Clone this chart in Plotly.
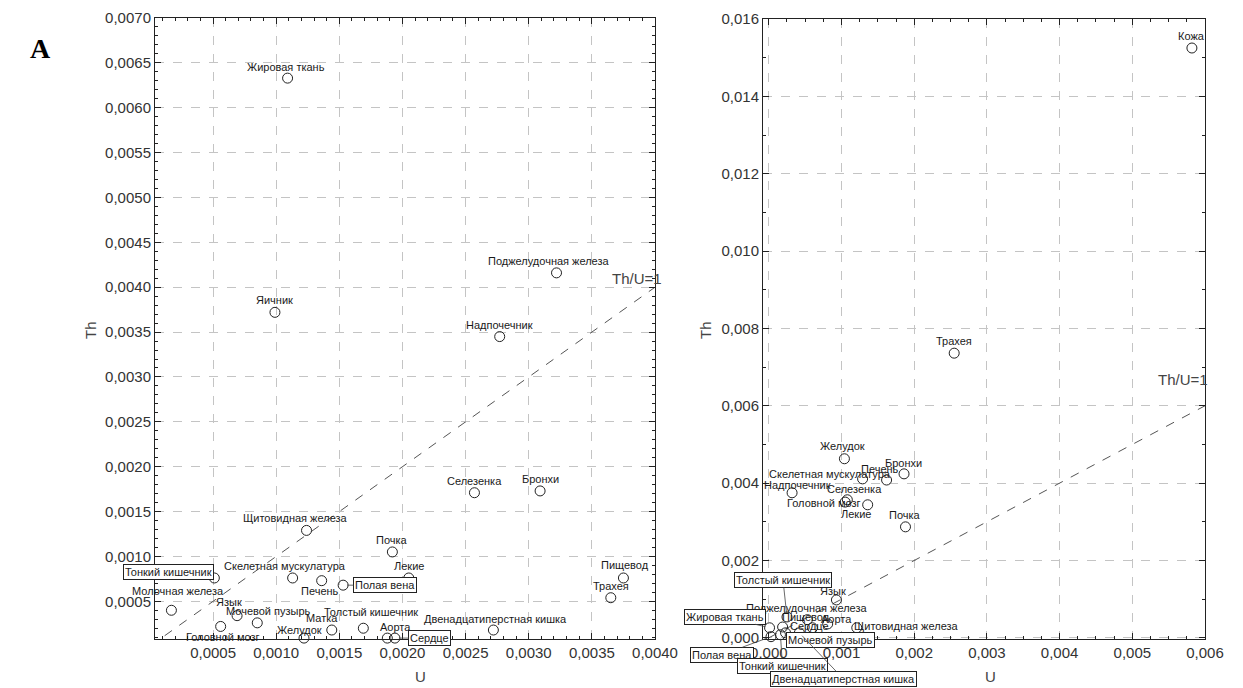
import plotly.graph_objects as go

# ---- Panel 1: organ concentrations, U vs Th ----
organs_a = [
    "Жировая ткань", "Поджелудочная железа", "Яичник", "Надпочечник", "Селезенка",
    "Бронхи", "Щитовидная железа", "Почка", "Лекие", "Полая вена",
    "Скелетная мускулатура", "Печень", "Тонкий кишечник", "Молочная железа", "Язык",
    "Мочевой пузырь", "Головной мозг", "Матка", "Желудок", "Толстый кишечник",
    "Аорта", "Сердце", "Двенадцатиперстная кишка", "Пищевод", "Трахея",
]
u_a = [
    0.00109, 0.00322, 0.00099, 0.00277, 0.00257,
    0.00309, 0.00124, 0.00192, 0.00205, 0.00153,
    0.00113, 0.00136, 0.00051, 0.00017, 0.00069,
    0.00085, 0.00056, 0.00144, 0.00122, 0.00169,
    0.00188, 0.00194, 0.00272, 0.00375, 0.00365,
]
th_a = [
    0.00633, 0.00416, 0.00372, 0.00345, 0.00171,
    0.00173, 0.00129, 0.00105, 0.00076, 0.00068,
    0.00076, 0.00073, 0.00076, 0.00040, 0.00034,
    0.00026, 0.00022, 0.00018, 0.00009, 0.00020,
    0.00009, 0.00009, 0.00018, 0.00076, 0.00054,
]

# ---- Panel 2 ----
organs_b = [
    "Кожа", "Трахея", "Желудок", "Бронхи", "Печень",
    "Скелетная мускулатура", "Надпочечник", "Селезенка", "Головной мозг", "Лекие",
    "Почка", "Язык", "Поджелудочная железа", "Аорта", "Пищевод",
    "Жировая ткань", "Сердце", "Мочевой пузырь", "Полая вена", "Тонкий кишечник",
    "Двенадцатиперстная кишка", "Толстый кишечник", "Щитовидная железа",
]
u_b = [
    0.00582, 0.00255, 0.00104, 0.00186, 0.00162,
    0.00129, 0.00032, 0.00108, 0.00105, 0.00136,
    0.00188, 0.00093, 0.00053, 0.00081, 0.00060,
    0.00001, 0.00019, 0.00023, 0.00003, 0.00016,
    0.00042, 0.00025, 0.00121,
]
th_b = [
    0.01525, 0.00736, 0.00463, 0.00424, 0.00408,
    0.00411, 0.00375, 0.00357, 0.00351, 0.00344,
    0.00287, 0.00098, 0.00047, 0.00036, 0.00026,
    0.00026, 0.00028, 0.00013, 0.00003, 0.00008,
    0.00013, 0.00054, 0.00026,
]

# reference line Th/U = 1
ratio_a = [0.0, 0.0040]
ratio_b = [0.0, 0.0060]

# label placement: (dx px, dy px upward, boxed with leader line)
place_a = {
    "Жировая ткань": (-2, 11, False),
    "Поджелудочная железа": (-8, 12, False),
    "Щитовидная железа": (-11, 12, False),
    "Скелетная мускулатура": (-8, 12, False),
    "Печень": (-2, -10, False),
    "Полая вена": (42, 0, True),
    "Тонкий кишечник": (-46, 6, True),
    "Молочная железа": (7, 19, False),
    "Язык": (-8, 14, False),
    "Мочевой пузырь": (11, 12, False),
    "Головной мозг": (2, -11, False),
    "Матка": (-10, 12, False),
    "Желудок": (-4, 8, False),
    "Толстый кишечник": (8, 16, False),
    "Аорта": (8, 11, False),
    "Сердце": (35, 0, True),
    "Двенадцатиперстная кишка": (2, 11, False),
    "Пищевод": (2, 13, False),
}
place_b = {
    "Желудок": (-2, 13, False),
    "Бронхи": (-1, 11, False),
    "Печень": (-7, 11, False),
    "Скелетная мускулатура": (-33, 5, False),
    "Надпочечник": (5, 8, False),
    "Селезенка": (7, 11, False),
    "Головной мозг": (-21, -1, False),
    "Лекие": (-12, -9, False),
    "Язык": (-3, 9, False),
    "Поджелудочная железа": (0, 12, False),
    "Аорта": (9, 5, False),
    "Пищевод": (-6, 11, False),
    "Жировая ткань": (-45, 11, True),
    "Сердце": (27, 1, False),
    "Мочевой пузырь": (45, -7, True),
    "Полая вена": (-49, -18, True),
    "Тонкий кишечник": (2, -31, True),
    "Двенадцатиперстная кишка": (44, -46, True),
    "Толстый кишечник": (-4, 37, True),
    "Щитовидная железа": (50, 2, False),
}

FONT = "Liberation Sans, Arial, sans-serif"
INK = "#1a1a1a"

fig = go.Figure()

for u, th, xa, ya, ref in (
    (u_a, th_a, "x", "y", ratio_a),
    (u_b, th_b, "x2", "y2", ratio_b),
):
    fig.add_trace(go.Scatter(
        x=ref, y=ref, xaxis=xa, yaxis=ya, mode="lines",
        line=dict(color="#555555", width=1, dash="dash"),
        hoverinfo="skip", showlegend=False,
    ))
    fig.add_trace(go.Scatter(
        x=u, y=th, xaxis=xa, yaxis=ya, mode="markers",
        marker=dict(symbol="circle-open", size=10, color="#222222",
                    line=dict(width=1, color="#222222")),
        cliponaxis=False, showlegend=False,
    ))

annotations = []


def add_labels(names, us, ths, placement, xr, yr):
    for name, u, th in zip(names, us, ths):
        dx, dy, boxed = placement.get(name, (0, 12, False))
        if boxed:
            annotations.append(dict(
                x=u, y=th, xref=xr, yref=yr, text=name,
                showarrow=True, ax=dx, ay=-dy, arrowhead=0,
                arrowwidth=0.8, arrowcolor="#444444", standoff=4,
                font=dict(family=FONT, size=11, color=INK),
                bordercolor="#222222", borderwidth=1, borderpad=1,
                bgcolor="white",
            ))
        else:
            annotations.append(dict(
                x=u, y=th, xref=xr, yref=yr, text=name,
                showarrow=False, xshift=dx, yshift=dy,
                font=dict(family=FONT, size=11, color=INK),
            ))


add_labels(organs_a, u_a, th_a, place_a, "x", "y")
add_labels(organs_b, u_b, th_b, place_b, "x2", "y2")

# Th/U=1 captions at the line ends
annotations.append(dict(x=ratio_a[1], y=ratio_a[1], xref="x", yref="y",
                        text="Th/U=1", showarrow=False, xshift=-18, yshift=9,
                        font=dict(family=FONT, size=15, color="#444444")))
annotations.append(dict(x=ratio_b[1], y=ratio_b[1], xref="x2", yref="y2",
                        text="Th/U=1", showarrow=False, xshift=-22, yshift=26,
                        font=dict(family=FONT, size=15, color="#444444")))


def paper_text(xp, yp, text, font, angle=0):
    annotations.append(dict(x=xp / 1243, y=1 - yp / 688, xref="paper", yref="paper",
                            xanchor="center", yanchor="middle",
                            text=text, showarrow=False, textangle=angle, font=font))


# axis titles and panel letter
title_font = dict(family=FONT, size=15, color="#444444")
paper_text(420, 676, "U", title_font)
paper_text(990, 676, "U", title_font)
paper_text(90, 330, "Th", title_font, -90)
paper_text(705, 330, "Th", title_font, -90)
paper_text(40, 48, "<b>A</b>",
           dict(family="Liberation Serif, Times New Roman, serif", size=28, color="#000000"))


def axis(domain, rng, tickvals, fmt, minor_step, anchor):
    return dict(
        domain=domain, range=rng, anchor=anchor,
        tickvals=tickvals, tickformat=fmt,
        ticks="inside", ticklen=6, tickwidth=1, tickcolor="#222222",
        minor=dict(ticks="inside", ticklen=3, dtick=minor_step, tickcolor="#222222",
                   showgrid=False),
        showline=True, linecolor="#222222", linewidth=1, mirror="allticks",
        showgrid=True, gridcolor="#c4c4c4", griddash="dash", gridwidth=1,
        zeroline=False, automargin=False,
        tickfont=dict(family=FONT, size=15, color="#333333"),
    )


ticks_ax = [0.0005 * i for i in range(1, 9)]
ticks_ay = [0.0005 * i for i in range(1, 15)]
ticks_bx = [0.001 * i for i in range(0, 7)]
ticks_by = [0.002 * i for i in range(0, 9)]

fig.update_layout(
    width=1243, height=688,
    margin=dict(l=0, r=0, t=0, b=0, pad=0, autoexpand=False),
    paper_bgcolor="white", plot_bgcolor="white",
    separators=",.",
    showlegend=False,
    xaxis=axis([155 / 1243, 655 / 1243], [0.00004, 0.0040], ticks_ax, ".4f", 0.0001, "y"),
    yaxis=axis([1 - 639 / 688, 1 - 18 / 688], [0.00008, 0.0070], ticks_ay, ".4f", 0.0001, "x"),
    xaxis2=axis([763 / 1243, 1205 / 1243], [-0.00008, 0.0060], ticks_bx, ".3f", 0.00025, "y2"),
    yaxis2=axis([1 - 639 / 688, 1 - 19 / 688], [-0.00003, 0.0160], ticks_by, ".3f", 0.001, "x2"),
    annotations=annotations,
)

fig.write_html("out.html")
